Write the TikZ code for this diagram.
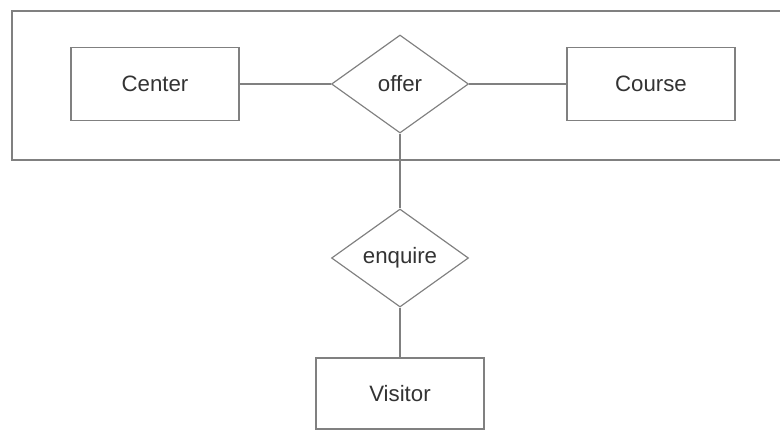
\documentclass[tikz,border=0pt]{standalone}
\usepackage{fontspec}
\setsansfont{Liberation Sans}
\definecolor{linegray}{HTML}{808080}
\definecolor{textgray}{HTML}{333333}
\usepackage{tikz}
\usetikzlibrary{shapes, positioning}
\newcommand{\link}[2]
{
	\draw[linegray, line width=1pt] (#1) -- (#2)
}

\begin{document}
\begin{tikzpicture}[x=0.3mm, y=-0.3mm,
	every node/.append style={draw=linegray, line width=1pt,
		text=textgray, font=\sffamily\fontsize{19}{22}\selectfont, inner sep=0pt},
	entity/.style={shape=rectangle, minimum width=50.4mm, minimum height=21.9mm},
	relship/.style={shape=diamond, minimum width=41.1mm, minimum height=29.4mm}]

	\useasboundingbox (0,0) rectangle (780,432);

	% aggregation frame, open to the right
	\draw[linegray, line width=1pt] (785,11) -- (12,11) -- (12,160) -- (785,160);

	\node[entity] (Center) at (155,84) {Center};
	\node[relship] (offer) at (400,84) {offer};
	\node[entity] (Course) at (651,84) {Course};
	\node[relship] (enquire) at (400,258) {enquire};
	\node[entity, minimum height=21.3mm] (Visitor) at (400,393.5) {Visitor};

	\link{Center.east}{offer.west};
	\link{offer.east}{Course.west};
	\link{offer.south}{enquire.north};
	\link{enquire.south}{Visitor.north};
\end{tikzpicture}
\end{document}
